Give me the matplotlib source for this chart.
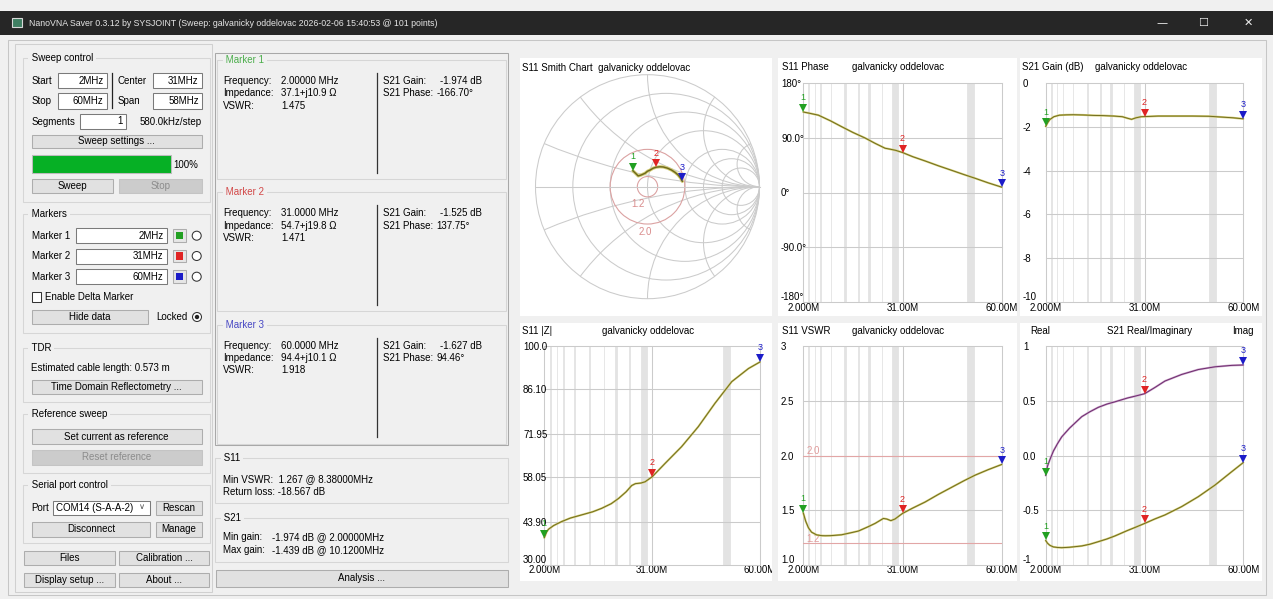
import numpy as np
import matplotlib
matplotlib.use('Agg')
import matplotlib.pyplot as plt
from matplotlib.patches import Rectangle, Circle
from matplotlib import transforms

#### values
sweep_start, sweep_stop = 2.0, 60.0            # MHz
freq_ticks = [2.0, 31.0, 60.0]
freq_tick_labels = ['2.000M', '31.00M', '60.00M']
marker_freq = [2.0, 31.0, 60.0]
marker_colors = ['#22a022', '#e02424', '#1c1cc8']
marker_title_colors = ['#4cae4c', '#d24848', '#4848c4']

# ham band overlay (MHz)
band_lo = [3.5, 5.35, 7.0, 10.1, 14.0, 18.068, 21.0, 24.89, 28.0, 50.0]
band_hi = [3.8, 5.37, 7.2, 10.15, 14.35, 18.168, 21.45, 24.99, 29.7, 52.0]

# S11 phase (deg)
phase_f = [2.0, 3.5, 6.4, 10.0, 13.2, 16.5, 20.0, 23.0, 25.9, 27.3, 29.0, 31.0,
           34.0, 37.6, 41.5, 45.4, 49.0, 52.2, 56.0, 60.0]
phase_deg = [132.7, 131.0, 127.5, 118.0, 108.5, 99.0, 90.0, 81.0, 73.0, 71.5, 69.5, 65.9,
             59.0, 52.0, 44.0, 36.5, 29.5, 23.5, 16.0, 8.8]

# S21 gain (dB)
gain_f = [2.0, 2.6, 3.2, 4.4, 6.0, 8.0, 10.1, 13.0, 16.0, 19.0, 22.0, 24.5, 26.0, 27.2,
          28.5, 30.0, 31.0, 35.0, 40.0, 45.0, 50.0, 54.0, 57.0, 60.0]
gain_db = [-1.974, -1.80, -1.66, -1.53, -1.46, -1.445, -1.439, -1.45, -1.47, -1.48, -1.50,
           -1.53, -1.60, -1.65, -1.58, -1.53, -1.525, -1.50, -1.50, -1.50, -1.51, -1.55,
           -1.58, -1.627]

# S11 |Z| (ohm)
zabs_f = [2.0, 2.6, 3.1, 4.5, 6.7, 9.0, 12.0, 15.0, 17.4, 20.0, 22.0, 24.0, 25.5, 26.5,
          28.0, 29.1, 31.0, 34.5, 38.9, 43.4, 47.9, 52.4, 56.9, 60.0]
zabs = [38.7, 40.5, 41.4, 42.6, 43.9, 45.0, 46.0, 47.0, 48.1, 49.6, 51.3, 53.4, 55.4, 56.0,
        56.2, 56.6, 58.2, 62.5, 67.8, 74.2, 81.7, 88.6, 92.8, 94.9]

# S11 VSWR
vswr_f = [2.0, 2.7, 3.5, 4.4, 5.9, 7.4, 8.4, 10.0, 13.2, 16.0, 18.1, 21.0, 23.0, 25.4,
          26.4, 27.6, 28.8, 31.0, 34.0, 37.6, 41.5, 45.4, 49.0, 52.2, 56.0, 60.0]
vswr = [1.475, 1.40, 1.34, 1.30, 1.275, 1.268, 1.267, 1.268, 1.276, 1.295, 1.31, 1.35,
        1.38, 1.425, 1.42, 1.405, 1.42, 1.471, 1.52, 1.575, 1.645, 1.71, 1.77, 1.82,
        1.87, 1.918]
vswr_lines = [2.0, 1.2]

# S21 real / imaginary
reim_f = [2.0, 2.5, 3.2, 4.25, 5.5, 6.7, 9.0, 12.6, 15.0, 17.45, 20.0, 22.3, 26.0, 28.0,
          31.0, 34.0, 37.0, 41.9, 46.8, 51.7, 56.6, 60.0]
s21_re = [-0.776, -0.80, -0.82, -0.835, -0.840, -0.842, -0.838, -0.826, -0.81, -0.787,
          -0.762, -0.735, -0.685, -0.66, -0.621, -0.58, -0.543, -0.467, -0.376, -0.27,
          -0.148, -0.0645]
s21_im = [-0.183, -0.10, -0.04, 0.04, 0.11, 0.17, 0.25, 0.355, 0.40, 0.44, 0.47, 0.49,
          0.525, 0.54, 0.564, 0.62, 0.68, 0.74, 0.785, 0.81, 0.823, 0.8265]

# S11 on the Smith chart (reflection coefficient)
smith_re = [-0.130, -0.105, -0.083, -0.055, -0.022, 0.000, 0.022, 0.050, 0.078, 0.110,
            0.141, 0.180, 0.216, 0.250, 0.275, 0.295, 0.311]
smith_im = [0.142, 0.118, 0.096, 0.105, 0.120, 0.138, 0.148, 0.165, 0.174, 0.178,
            0.176, 0.165, 0.148, 0.125, 0.103, 0.078, 0.048]
smith_marker_idx = [0, 8, 16]
smith_r = [0.2, 0.5, 1.0, 2.0, 3.0, 5.0]
smith_x = [0.2, 0.5, 1.0, 2.0, 5.0]
smith_swr = [1.2, 2.0]

#### figure
W, H = 1273, 599
FS = 7.0
GRID = '#cbcbcb'
plt.rcParams['font.family'] = ['Liberation Sans', 'DejaVu Sans']
plt.rcParams['font.size'] = FS

fig = plt.figure(figsize=(W / 100, H / 100), dpi=100)
fig.patch.set_facecolor('#f0f0f0')
bg = fig.add_axes([0, 0, 1, 1])
bg.set_xlim(0, W)
bg.set_ylim(H, 0)
bg.axis('off')


def box(x0, y0, x1, y1, fc, ec='none', lw=0.75, z=1):
    bg.add_patch(Rectangle((x0, y0), x1 - x0, y1 - y0, facecolor=fc, edgecolor=ec,
                           linewidth=lw, zorder=z))


def txt(x, y, s, ha='left', color='black', size=None, z=3, **kw):
    bg.text(x, y, s, ha=ha, va='center', color=color, fontsize=size or FS, zorder=z, **kw)


def button(x0, y0, x1, y1, label, enabled=True):
    box(x0, y0, x1, y1, '#e1e1e1' if enabled else '#cccccc',
        '#adadad' if enabled else '#c4c4c4', z=2)
    txt((x0 + x1) / 2, (y0 + y1) / 2, label, ha='center',
        color='black' if enabled else '#8c8c8c')


def field(x0, y0, x1, y1, value):
    box(x0, y0, x1, y1, 'white', '#7a7a7a', z=2)
    txt(x1 - 3, (y0 + y1) / 2, value, ha='right')


def group(x0, y0, x1, y1, title, color='black'):
    box(x0, y0, x1, y1, 'none', '#d6d6d6', z=1.5)
    txt(x0 + 6, y0, ' ' + title + ' ', color=color,
        bbox=dict(fc='#f0f0f0', ec='none', pad=0.3))


def radio(x, y, filled=False):
    bg.add_patch(Circle((x, y), 4.5, fc='white', ec='#333333', lw=0.75, zorder=2))
    if filled:
        bg.add_patch(Circle((x, y), 2.2, fc='#222222', ec='none', zorder=3))


# window chrome
box(0, 11, W, 35, '#262626')
box(12, 18, 22, 27, '#3f7f62', '#d8d8d8', lw=0.8, z=2)
txt(29, 23, 'NanoVNA Saver 0.3.12 by SYSJOINT (Sweep: galvanicky oddelovac '
    '2026-02-06 15:40:53 @ 101 points)', color='#e6e6e6', size=6.3)
for x, s in [(1162, '\u2014'), (1203, '\u2610'), (1248, '\u2715')]:
    txt(x, 23, s, ha='center', color='#f0f0f0', size=8, family='DejaVu Sans')
box(0, 35, W, H, '#f0f0f0')
box(8, 40, 1266, 595, 'none', '#c6c6c6', z=1.2)
box(15, 44, 212, 592, 'none', '#d0d0d0', z=1.2)

# sweep control
group(22.7, 58, 210, 201.7, 'Sweep control')
txt(31.7, 81, 'Start')
field(57.7, 72.7, 106.7, 88.3, '2MHz')
txt(31.7, 101, 'Stop')
field(57.7, 93.3, 106.7, 109, '60MHz')
bg.plot([111.7, 111.7], [72.7, 108.3], color='#222222', lw=0.9, zorder=2)
txt(118, 81, 'Center')
field(152.7, 72.7, 201.7, 88.3, '31MHz')
txt(118, 101, 'Span')
field(152.7, 93.3, 201.7, 109, '58MHz')
txt(31.7, 121.7, 'Segments')
field(80, 114, 126, 129, '1')
txt(201.7, 121.7, '580.0kHz/step', ha='right')
button(31.7, 135, 201.7, 148, 'Sweep settings ...')
box(31.7, 155, 171, 173, '#06b025', '#bcbcbc', z=2)
txt(173, 164.5, '100%')
button(31.7, 179, 113, 193, 'Sweep')
button(119, 179, 201.7, 193, 'Stop', enabled=False)

# markers
group(22.7, 214, 210, 333, 'Markers')
for i, (y, val) in enumerate(zip([235.7, 256, 276.7], ['2MHz', '31MHz', '60MHz'])):
    txt(31.7, y, 'Marker %d' % (i + 1))
    field(75.7, y - 7.5, 166.7, y + 7.5, val)
    box(173.3, y - 6.3, 186, y + 6.3, '#e6e6e6', '#adadad', z=2)
    box(176.3, y - 3.6, 183, y + 3.6, marker_colors[i], z=3)
    radio(196.7, y)
box(31.7, 292, 41, 302, 'white', '#333333', z=2)
txt(45, 297, 'Enable Delta Marker')
button(31.7, 310, 148, 324, 'Hide data')
txt(156.7, 317, 'Locked')
radio(197, 317, filled=True)

# TDR
group(22.7, 348, 210, 401.7, 'TDR')
txt(30.7, 368, 'Estimated cable length: 0.573 m')
button(31.7, 380, 201.7, 394, 'Time Domain Reflectometry ...')

# reference sweep
group(22.7, 414, 210, 472.7, 'Reference sweep')
button(31.7, 429, 201.7, 444, 'Set current as reference')
button(31.7, 450, 201.7, 465, 'Reset reference', enabled=False)

# serial port
group(22.7, 485, 210, 543, 'Serial port control')
txt(31.7, 507.7, 'Port')
box(52.7, 500.7, 150, 515, 'white', '#7a7a7a', z=2)
txt(55.5, 507.7, 'COM14 (S-A-A-2)')
txt(142, 507.7, '\u2228', ha='center', color='#555555', size=6)
button(156, 500.7, 201.7, 515, 'Rescan')
button(31.7, 521.7, 150, 536.7, 'Disconnect')
button(156, 521.7, 201.7, 536.7, 'Manage')
button(24, 550.7, 115, 565, 'Files')
button(119, 550.7, 209, 565, 'Calibration ...')
button(24, 572.7, 115, 586.7, 'Display setup ...')
button(119, 572.7, 209, 586.7, 'About ...')

# marker readouts
box(215, 52.7, 508, 445, 'none', '#a8a8a8', z=1.2)
readouts = [
    ('2.00000 MHz', '37.1+j10.9 \u03a9', '1.475', '-1.974 dB', '-166.70\u00b0'),
    ('31.0000 MHz', '54.7+j19.8 \u03a9', '1.471', '-1.525 dB', '137.75\u00b0'),
    ('60.0000 MHz', '94.4+j10.1 \u03a9', '1.918', '-1.627 dB', '94.46\u00b0'),
]
for i, (fr, imp, sw, g, ph) in enumerate(readouts):
    oy = 132.3 * i
    group(217, 60 + oy, 506, 179 + oy, 'Marker %d' % (i + 1), color=marker_title_colors[i])
    txt(223.3, 81 + oy, 'Frequency:')
    txt(281, 81 + oy, fr)
    txt(223.3, 93.3 + oy, 'Impedance:')
    txt(281, 93.3 + oy, imp)
    txt(223.3, 105.7 + oy, 'VSWR:')
    txt(281, 105.7 + oy, sw)
    bg.plot([377.3, 377.3], [73 + oy, 172.7 + oy], color='#333333', lw=0.9, zorder=2)
    txt(383.3, 81 + oy, 'S21 Gain:')
    txt(440, 81 + oy, g)
    txt(383.3, 93.3 + oy, 'S21 Phase:')
    txt(436.5, 93.3 + oy, ph)

group(215, 458, 508, 503.3, 'S11')
txt(223, 479.3, 'Min VSWR:  1.267 @ 8.38000MHz')
txt(223, 491.7, 'Return loss: -18.567 dB')
group(215, 517.7, 508, 561.7, 'S21')
txt(223, 537.3, 'Min gain:')
txt(271.7, 537.3, '-1.974 dB @ 2.00000MHz')
txt(223, 550, 'Max gain:')
txt(271.7, 550, '-1.439 dB @ 10.1200MHz')
button(216, 570, 508, 586.7, 'Analysis ...')


#### charts
def freq_chart(panel, plot, titles, title_y, yticks, ylabels, ylim, xpad):
    px0, py0, px1, py1 = panel
    box(px0, py0, px1, py1, 'white', z=1)
    for x, s, ha in titles:
        txt(x, title_y, s, ha=ha)
    x0, y0, x1, y1 = plot
    ax = fig.add_axes([x0 / W, 1 - y1 / H, (x1 - x0) / W, (y1 - y0) / H])
    ax.set_xlim(sweep_start, sweep_stop)
    ax.set_ylim(*ylim)
    ax.patch.set_visible(False)
    for s in ax.spines.values():
        s.set_visible(False)
    for lo, hi in zip(band_lo, band_hi):
        ax.axvspan(lo, hi, fc='#e3e3e3', ec='#e3e3e3', lw=0.6, zorder=0)
    ax.set_xticks(freq_ticks)
    ax.set_xticklabels(freq_tick_labels)
    ax.set_yticks(yticks)
    ax.set_yticklabels(ylabels, ha='left')
    ax.get_yticklabels()[0].set_verticalalignment('bottom')
    ax.grid(True, color=GRID, lw=0.75, zorder=1)
    for gl in ax.get_xgridlines() + ax.get_ygridlines():
        gl.set_clip_on(False)
    ax.tick_params(length=0, labelsize=FS)
    ax.tick_params(axis='y', pad=(x0 - px0 - 3) * 0.72)
    ax.tick_params(axis='x', pad=xpad)
    # labels stop at the panel edge, like the widget does
    clip = transforms.TransformedBbox(transforms.Bbox.from_extents(px0, py0, px1, py1),
                                      bg.transData)
    for lab in ax.get_xticklabels():
        lab.set_clip_box(clip)
        lab.set_clip_on(True)
    return ax


def trace(ax, x, y, core='#6e6a1c', halo='#d3cc74', lw=1.5):
    ax.plot(x, y, color=halo, lw=lw, solid_capstyle='round', zorder=3, clip_on=False)
    ax.plot(x, y, color=core, lw=lw * 0.45, zorder=4, clip_on=False)


def draw_markers(ax, xs, ys):
    tri = transforms.offset_copy(ax.transData, fig=fig, x=0, y=4, units='dots')
    for i, (x, y) in enumerate(zip(xs, ys)):
        ax.plot([x], [y], marker='v', ms=5.8, mew=0, color=marker_colors[i],
                transform=tri, clip_on=False, zorder=6)
        ax.annotate(str(i + 1), (x, y), xytext=(0, 14), textcoords='offset pixels',
                    ha='center', va='center', fontsize=6.5, color=marker_colors[i],
                    annotation_clip=False, zorder=6)


def at_markers(f, v):
    return [v[f.index(m)] for m in marker_freq]


# Smith chart
box(520, 58, 772, 316, 'white', z=1)
txt(521.7, 68.3, 'S11 Smith Chart  galvanicky oddelovac')
cx, cy, R, lim = 647.5, 186.7, 112.0, 1.08
sax = fig.add_axes([(cx - R * lim) / W, 1 - (cy + R * lim) / H, 2 * R * lim / W, 2 * R * lim / H])
sax.set_xlim(-lim, lim)
sax.set_ylim(-lim, lim)
sax.axis('off')
outer = Circle((0, 0), 1, fill=False, ec=GRID, lw=0.75)
sax.add_patch(outer)
sax.plot([-1, 1], [0, 0], color=GRID, lw=0.75)
for r in smith_r:
    sax.add_patch(Circle((r / (1 + r), 0), 1 / (1 + r), fill=False, ec=GRID, lw=0.75))
for xv in smith_x:
    for sgn in (1, -1):
        c = Circle((1, sgn / xv), 1 / xv, fill=False, ec=GRID, lw=0.75)
        sax.add_patch(c)
        c.set_clip_path(outer)
for s, dx in zip(smith_swr, [-9, -2]):
    g = (s - 1) / (s + 1)
    sax.add_patch(Circle((0, 0), g, fill=False, ec='#dba2a2', lw=0.8))
    sax.annotate('%.1f' % s, (0, -g), xytext=(dx, -7.5), textcoords='offset pixels',
                 ha='center', va='center', color='#d98c8c', fontsize=FS)
trace(sax, smith_re, smith_im, lw=2.3)
draw_markers(sax, [smith_re[i] for i in smith_marker_idx], [smith_im[i] for i in smith_marker_idx])

# S11 phase
ax = freq_chart((778, 58, 1017, 316), (803.3, 83.3, 1001.7, 301.7),
                [(782, 'S11 Phase', 'left'), (852, 'galvanicky oddelovac', 'left')], 67.3,
                [-180, -90, 0, 90, 180], ['-180\u00b0', '-90.0\u00b0', '0\u00b0', '90.0\u00b0', '180\u00b0'],
                (-180, 180), 1.2)
trace(ax, phase_f, phase_deg)
draw_markers(ax, marker_freq, at_markers(phase_f, phase_deg))

# S21 gain
ax = freq_chart((1020, 58, 1262, 316), (1045.7, 83.3, 1243.3, 301.7),
                [(1022.3, 'S21 Gain (dB)', 'left'), (1095, 'galvanicky oddelovac', 'left')], 67.3,
                [-10, -8, -6, -4, -2, 0], ['-10', '-8', '-6', '-4', '-2', '0'],
                (-10, 0), 1.2)
trace(ax, gain_f, gain_db)
draw_markers(ax, marker_freq, at_markers(gain_f, gain_db))

# S11 |Z|
ax = freq_chart((520, 323, 772, 581), (544.3, 346, 760, 565),
                [(522.3, 'S11 |Z|', 'left'), (601.7, 'galvanicky oddelovac', 'left')], 330.7,
                [30.0, 43.9, 58.05, 71.95, 86.1, 100.0],
                ['30.00', '43.90', '58.05', '71.95', '86.10', '100.0'],
                (30, 100), 0)
trace(ax, zabs_f, zabs)
draw_markers(ax, marker_freq, at_markers(zabs_f, zabs))

# S11 VSWR
ax = freq_chart((778, 323, 1017, 581), (803.3, 346, 1001.7, 565),
                [(782.3, 'S11 VSWR', 'left'), (852.3, 'galvanicky oddelovac', 'left')], 330.7,
                [1.0, 1.5, 2.0, 2.5, 3.0], ['1.0', '1.5', '2.0', '2.5', '3'],
                (1.0, 3.0), 0)
for v in vswr_lines:
    ax.axhline(v, color='#e2a6a6', lw=0.8, zorder=2)
    ax.annotate('%.1f' % v, (0, v), xycoords=('axes fraction', 'data'), xytext=(3, 4),
                textcoords='offset pixels', ha='left', va='center', color='#e09a9a', fontsize=FS)
trace(ax, vswr_f, vswr)
draw_markers(ax, marker_freq, at_markers(vswr_f, vswr))

# S21 real / imaginary
ax = freq_chart((1020, 323, 1262, 581), (1045.7, 346, 1243.3, 565),
                [(1030, 'Real', 'left'), (1150, 'S21 Real/Imaginary', 'center'),
                 (1254, 'Imag', 'right')], 330.7,
                [-1, -0.5, 0, 0.5, 1], ['-1', '-0.5', '0.0', '0.5', '1'],
                (-1, 1), 0)
trace(ax, reim_f, s21_re)
trace(ax, reim_f, s21_im, core='#6c2a6c', halo='#c9a2c9')
draw_markers(ax, marker_freq, at_markers(reim_f, s21_re))
draw_markers(ax, marker_freq, at_markers(reim_f, s21_im))

fig.savefig('out.png', dpi=100, facecolor=fig.get_facecolor())
